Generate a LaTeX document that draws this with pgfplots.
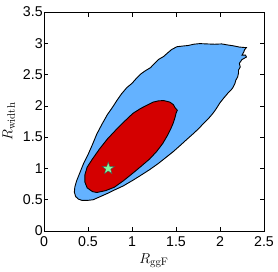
\documentclass[border=0pt]{standalone}
\usepackage{fontspec}
\usepackage{pgfplots}
\pgfplotsset{compat=1.18}
\newfontfamily\helv{Liberation Sans}
\definecolor{cblue}{RGB}{100,178,255}
\definecolor{cred}{RGB}{212,0,0}
\definecolor{cgreen}{RGB}{125,250,160}
\pgfdeclareplotmark{fstar}{%
  \pgfpathmoveto{\pgfpointpolar{90}{\pgfplotmarksize}}%
  \pgfpathlineto{\pgfpointpolar{126}{0.40\pgfplotmarksize}}%
  \pgfpathlineto{\pgfpointpolar{162}{\pgfplotmarksize}}%
  \pgfpathlineto{\pgfpointpolar{198}{0.40\pgfplotmarksize}}%
  \pgfpathlineto{\pgfpointpolar{234}{\pgfplotmarksize}}%
  \pgfpathlineto{\pgfpointpolar{270}{0.40\pgfplotmarksize}}%
  \pgfpathlineto{\pgfpointpolar{306}{\pgfplotmarksize}}%
  \pgfpathlineto{\pgfpointpolar{342}{0.40\pgfplotmarksize}}%
  \pgfpathlineto{\pgfpointpolar{18}{\pgfplotmarksize}}%
  \pgfpathlineto{\pgfpointpolar{54}{0.40\pgfplotmarksize}}%
  \pgfpathclose\pgfusepathqfillstroke}
\begin{document}
\begin{tikzpicture}
\useasboundingbox (-44pt,-40pt) rectangle (234pt,231pt);
\begin{axis}[
  at={(0pt,0pt)}, anchor=south west,
  scale only axis, width=220pt, height=219pt,
  xmin=0, xmax=2.5, ymin=0, ymax=3.5,
  xtick={0,0.5,...,2.5}, ytick={0,0.5,...,3.5},
  tick align=inside, major tick length=4.5pt,
  tick style={black, line width=0.6pt},
  axis line style={line width=0.8pt},
  /pgf/number format/assume math mode=true,
  ticklabel style={font=\helv\fontsize{14.2}{16}\selectfont},
  xticklabel style={yshift=-2.5pt},
  yticklabel style={xshift=2.2pt},
  xlabel={$R_{\mathrm{ggF}}$}, ylabel={$R_{\mathrm{width}}$},
  label style={font=\fontsize{15.5}{18}\selectfont},
  xlabel style={at={(axis description cs:0.5,-0.135)}, anchor=center},
  ylabel style={at={(axis description cs:-0.16,0.5)}, anchor=center},
]
\addplot[fill=cblue, draw=black, line width=0.9pt] coordinates {
(0.43,0.49) (0.50,0.49) (0.56,0.50) (0.64,0.55) (0.72,0.60) (0.80,0.655) (0.90,0.72) (1.015,0.815) (1.10,0.89) (1.20,0.98) (1.30,1.08) (1.39,1.18) (1.47,1.27) (1.55,1.37) (1.62,1.46) (1.70,1.56) (1.76,1.64) (1.80,1.70) (1.85,1.77) (1.89,1.83) (1.93,1.90) (1.96,1.96) (2.00,2.05) (2.04,2.12) (2.07,2.17) (2.10,2.22) (2.13,2.26) (2.15,2.30) (2.17,2.36) (2.18,2.41) (2.20,2.46) (2.21,2.52) (2.21,2.57) (2.23,2.62) (2.22,2.68) (2.25,2.74) (2.30,2.78) (2.29,2.81) (2.25,2.81) (2.27,2.86) (2.28,2.90) (2.30,2.93) (2.22,2.94) (2.15,2.96) (2.08,2.975) (2.02,2.99) (1.94,2.985) (1.85,2.99) (1.77,2.995) (1.70,2.985) (1.64,2.965) (1.57,2.955) (1.51,2.945) (1.45,2.90) (1.40,2.84) (1.36,2.79) (1.30,2.74) (1.25,2.67) (1.21,2.61) (1.15,2.56) (1.10,2.51) (1.05,2.44) (1.00,2.36) (0.94,2.29) (0.88,2.19) (0.83,2.09) (0.78,1.98) (0.72,1.86) (0.66,1.71) (0.60,1.55) (0.55,1.38) (0.50,1.22) (0.45,1.08) (0.41,0.94) (0.37,0.80) (0.35,0.70) (0.345,0.62) (0.36,0.55) (0.39,0.51)
} -- cycle;
\addplot[fill=cred, draw=black, line width=0.9pt] coordinates {
(0.55,0.63) (0.60,0.615) (0.70,0.645) (0.80,0.70) (0.90,0.80) (1.015,0.93) (1.10,1.03) (1.20,1.15) (1.28,1.27) (1.35,1.40) (1.40,1.52) (1.44,1.63) (1.47,1.73) (1.49,1.82) (1.50,1.88) (1.515,1.93) (1.49,1.97) (1.47,2.02) (1.43,2.06) (1.36,2.085) (1.30,2.08) (1.24,2.06) (1.17,2.01) (1.10,1.96) (1.01,1.88) (0.92,1.76) (0.82,1.62) (0.72,1.47) (0.63,1.31) (0.55,1.15) (0.49,1.02) (0.465,0.90) (0.465,0.78) (0.49,0.69)
} -- cycle;
\addplot[only marks, mark=fstar, mark size=6.5pt, mark options={fill=cgreen, draw=black!70, line width=0.4pt}] coordinates {(0.73,1.0)};
\end{axis}
\end{tikzpicture}
\end{document}
